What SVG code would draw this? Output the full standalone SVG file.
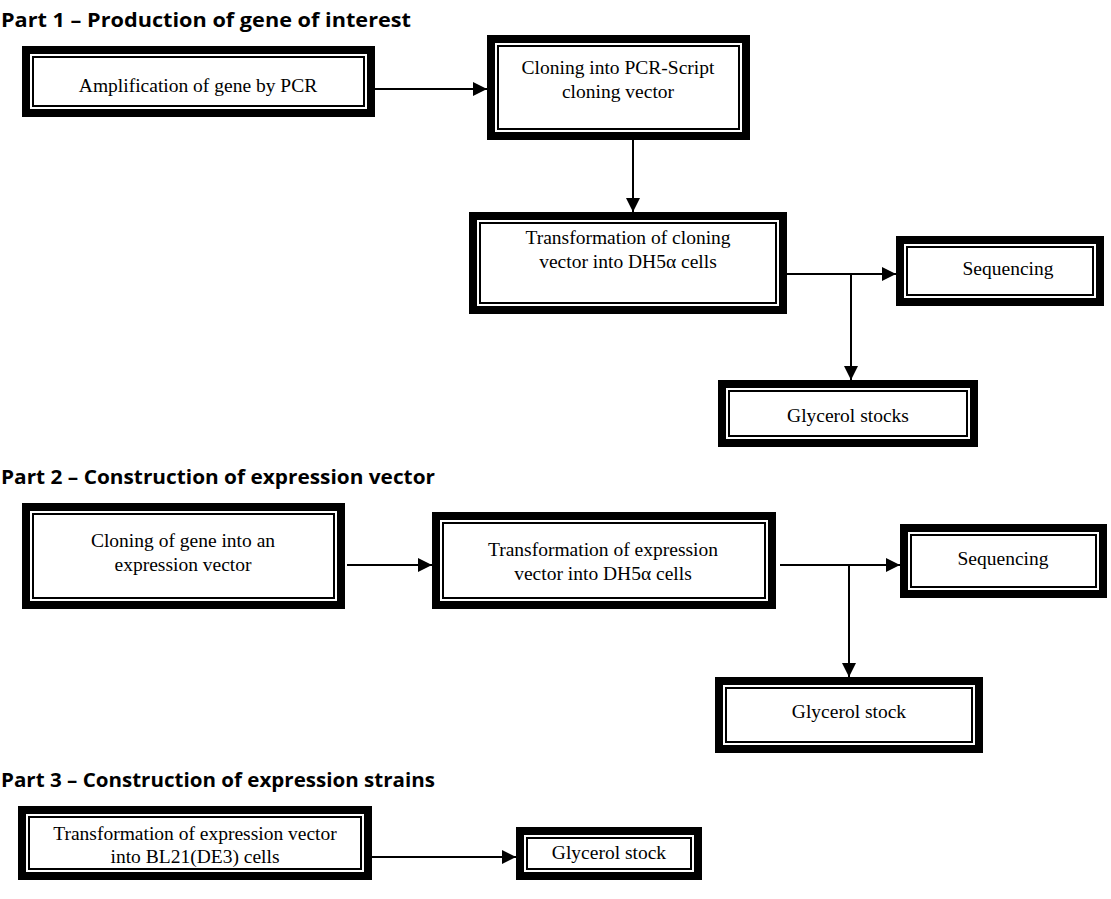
<svg xmlns="http://www.w3.org/2000/svg" width="1111" height="899" viewBox="0 0 1111 899">
<defs>
<style>
.outer{fill:#fff;stroke:#000;stroke-width:8}
.inner{fill:none;stroke:#000;stroke-width:2}
.lbl{font-family:"Liberation Serif","Times New Roman",serif;font-size:19.5px;fill:#000;text-anchor:middle}
.title{font-family:"Open Sans","Liberation Sans",sans-serif;font-weight:bold;font-size:20px;fill:#000}
.conn{fill:none;stroke:#000;stroke-width:2}
</style>
<marker id="arr" markerWidth="14" markerHeight="14" refX="14" refY="7" orient="auto" markerUnits="userSpaceOnUse">
<path d="M0,0 L14,7 L0,14 Z" fill="#000"/>
</marker>
</defs>
<rect width="1111" height="899" fill="#fff"/>
<text class="title" x="1" y="27" textLength="410" lengthAdjust="spacingAndGlyphs">Part 1 – Production of gene of interest</text>
<text class="title" x="1" y="484" textLength="434" lengthAdjust="spacingAndGlyphs">Part 2 – Construction of expression vector</text>
<text class="title" x="1" y="787" textLength="434" lengthAdjust="spacingAndGlyphs">Part 3 – Construction of expression strains</text>

<g id="amp">
<rect class="outer" x="26" y="50" width="345" height="63"/>
<rect class="inner" x="33" y="57" width="331" height="49"/>
<text class="lbl" x="198" y="88" dominant-baseline="middle">Amplification of gene by PCR</text>
</g>
<g id="cloneScript">
<rect class="outer" x="491" y="39" width="255" height="97"/>
<rect class="inner" x="498" y="46" width="241" height="83"/>
<text class="lbl" x="618" y="70" dominant-baseline="middle">Cloning into PCR-Script</text>
<text class="lbl" x="618" y="94" dominant-baseline="middle">cloning vector</text>
</g>
<g id="transClone">
<rect class="outer" x="473" y="216" width="310" height="94"/>
<rect class="inner" x="480" y="223" width="296" height="80"/>
<text class="lbl" x="628" y="240" dominant-baseline="middle">Transformation of cloning</text>
<text class="lbl" x="628" y="264" dominant-baseline="middle">vector into DH5α cells</text>
</g>
<g id="seq1">
<rect class="outer" x="900" y="240" width="200" height="62"/>
<rect class="inner" x="907" y="247" width="186" height="48"/>
<text class="lbl" x="1008" y="271" dominant-baseline="middle">Sequencing</text>
</g>
<g id="gly1">
<rect class="outer" x="722" y="384" width="252" height="59"/>
<rect class="inner" x="729" y="391" width="238" height="45"/>
<text class="lbl" x="848" y="418" dominant-baseline="middle">Glycerol stocks</text>
</g>
<g id="cloneGene">
<rect class="outer" x="26" y="507" width="315" height="98"/>
<rect class="inner" x="33" y="514" width="301" height="84"/>
<text class="lbl" x="183" y="543" dominant-baseline="middle">Cloning of gene into an</text>
<text class="lbl" x="183" y="567" dominant-baseline="middle">expression vector</text>
</g>
<g id="transExpr">
<rect class="outer" x="436" y="516" width="336" height="89"/>
<rect class="inner" x="443" y="523" width="322" height="75"/>
<text class="lbl" x="603" y="552" dominant-baseline="middle">Transformation of expression</text>
<text class="lbl" x="603" y="576" dominant-baseline="middle">vector into DH5α cells</text>
</g>
<g id="seq2">
<rect class="outer" x="904" y="528" width="199" height="66"/>
<rect class="inner" x="911" y="535" width="185" height="52"/>
<text class="lbl" x="1003" y="561" dominant-baseline="middle">Sequencing</text>
</g>
<g id="gly2">
<rect class="outer" x="719" y="681" width="260" height="68"/>
<rect class="inner" x="726" y="688" width="246" height="54"/>
<text class="lbl" x="849" y="714" dominant-baseline="middle">Glycerol stock</text>
</g>
<g id="transBL">
<rect class="outer" x="22" y="810" width="346" height="66"/>
<rect class="inner" x="29" y="817" width="332" height="52"/>
<text class="lbl" x="195" y="836" dominant-baseline="middle">Transformation of expression vector</text>
<text class="lbl" x="195" y="859" dominant-baseline="middle">into BL21(DE3) cells</text>
</g>
<g id="gly3">
<rect class="outer" x="520" y="831" width="178" height="45"/>
<rect class="inner" x="527" y="838" width="164" height="31"/>
<text class="lbl" x="609" y="855" dominant-baseline="middle">Glycerol stock</text>
</g>

<g id="connectors">
<path class="conn" d="M375,89 H487" marker-end="url(#arr)"/>
<path class="conn" d="M633,140 V212" marker-end="url(#arr)"/>
<path class="conn" d="M787,274 H896" marker-end="url(#arr)"/>
<path class="conn" d="M851,274 V380" marker-end="url(#arr)"/>
<path class="conn" d="M347,565 H432" marker-end="url(#arr)"/>
<path class="conn" d="M780,565 H900" marker-end="url(#arr)"/>
<path class="conn" d="M849,565 V677" marker-end="url(#arr)"/>
<path class="conn" d="M372,857 H516" marker-end="url(#arr)"/>
</g>
</svg>
